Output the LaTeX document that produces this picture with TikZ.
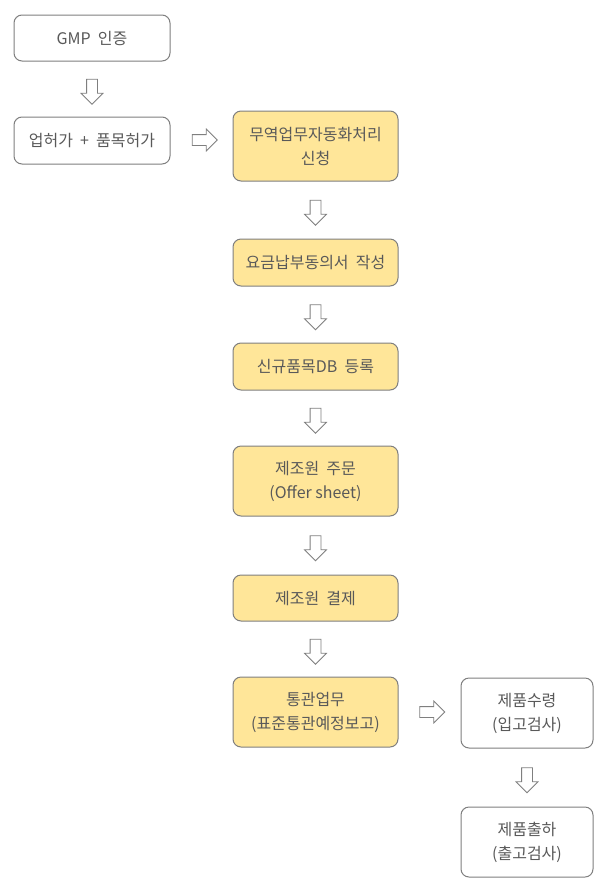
\documentclass[tikz,border=0pt]{standalone}
\usepackage{fontspec}
\setmainfont{Noto Sans CJK KR}
\usetikzlibrary{shapes.arrows,calc}
\definecolor{boxline}{HTML}{7F7F7F}
\definecolor{boxfill}{HTML}{FFE699}
\definecolor{txt}{HTML}{595959}
\begin{document}
\begin{tikzpicture}[x=1pt,y=-1pt,
  wbox/.style={draw=boxline,line width=1pt,rounded corners=8pt,fill=white,
    text=txt,font=\fontsize{16}{24}\selectfont,align=center,inner sep=0pt},
  ybox/.style={wbox,fill=boxfill},
  blk/.style={single arrow,draw=boxline,fill=white,line width=0.8pt,
    minimum height=25pt,single arrow head extend=5.5pt,inner sep=5pt,
    single arrow tip angle=90,outer sep=0pt},
  darr/.style={blk,shape border rotate=270},
  rarr/.style={blk,shape border rotate=0}]
\useasboundingbox (0,0) rectangle (611,895);
\node[wbox,minimum width=156pt,minimum height=46pt] (gmp) at (92,38) {GMP\ \ 인증};
\node[wbox,minimum width=156pt,minimum height=47pt] (lic) at (92,140.5) {업허가\ \ +\ \ 품목허가};
\node[ybox,minimum width=165pt,minimum height=70pt] (s1) at (315.5,146) {무역업무자동화처리\\신청};
\node[ybox,minimum width=165pt,minimum height=47pt] (s2) at (315.5,262.5) {요금납부동의서\ \ 작성};
\node[ybox,minimum width=165pt,minimum height=47pt] (s3) at (315.5,366.5) {신규품목DB\ \ 등록};
\node[ybox,minimum width=165pt,minimum height=70pt] (s4) at (315.5,481) {제조원\ \ 주문\\(Offer sheet)};
\node[ybox,minimum width=165pt,minimum height=46pt] (s5) at (315.5,598) {제조원\ \ 결제};
\node[ybox,minimum width=165pt,minimum height=70pt] (s6) at (315.5,712) {통관업무\\(표준통관예정보고)};
\node[wbox,minimum width=132pt,minimum height=70pt] (r1) at (527,713) {제품수령\\(입고검사)};
\node[wbox,minimum width=132pt,minimum height=70pt] (r2) at (527,842) {제품출하\\(출고검사)};
\node[darr] (a1) at ($(gmp.south)!0.5!(lic.north)$) {};
\node[rarr] (a2) at (202,140) {};
\node[darr] (a3) at ($(s1.south)!0.5!(s2.north)$) {};
\node[darr] (a4) at ($(s2.south)!0.5!(s3.north)$) {};
\node[darr] (a5) at ($(s3.south)!0.5!(s4.north)$) {};
\node[darr] (a6) at ($(s4.south)!0.5!(s5.north)$) {};
\node[darr] (a7) at ($(s5.south)!0.5!(s6.north)$) {};
\node[rarr] (a8) at (429.5,712) {};
\node[darr] (a9) at ($(r1.south)!0.5!(r2.north)$) {};
\end{tikzpicture}
\end{document}
